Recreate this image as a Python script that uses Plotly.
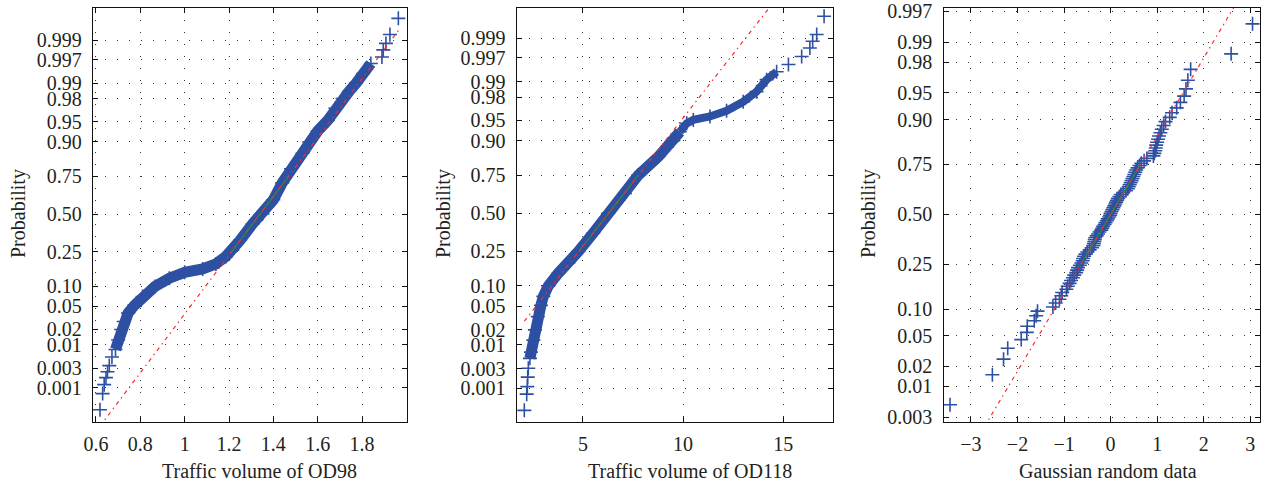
import plotly.graph_objects as go
from statistics import NormalDist

# ---------------- data ----------------
od98_x = [0.618, 0.630, 0.637, 0.645, 0.652, 0.660, 0.672, 0.688, 0.700, 0.713,
          0.725, 0.745, 0.773, 0.810, 0.866, 0.931, 1.000, 1.081, 1.141, 1.186,
          1.215, 1.250, 1.306, 1.351, 1.400, 1.440, 1.480, 1.532, 1.562, 1.600,
          1.645, 1.680, 1.712, 1.745, 1.773, 1.805, 1.840, 1.890, 1.896, 1.908,
          1.926, 1.964]
od98_p = [0.00025, 0.0007, 0.0012, 0.0018, 0.0025, 0.0035, 0.0055, 0.008, 0.0125, 0.02,
          0.028, 0.039, 0.052, 0.071, 0.099, 0.127, 0.150, 0.164, 0.187, 0.225,
          0.260, 0.320, 0.430, 0.500, 0.600, 0.710, 0.790, 0.860, 0.900, 0.930,
          0.952, 0.970, 0.980, 0.986, 0.990, 0.9938, 0.9963, 0.9974, 0.99825, 0.9988,
          0.9993, 0.99975]
od98_quartiles = [1.211, 1.469]

od118_x = [2.07, 2.19, 2.22, 2.24, 2.27, 2.35, 2.40, 2.52, 2.60, 2.74,
           2.90, 3.02, 3.27, 3.77, 4.27, 4.77, 5.51, 6.26, 7.10, 7.76,
           8.76, 9.51, 9.84, 10.18, 10.51, 11.34, 12.17, 13.00, 13.67, 14.17,
           14.67, 15.26, 15.92, 16.33, 16.47, 16.67, 17.04]
od118_p = [0.00025, 0.0007, 0.0011, 0.0019, 0.0031, 0.0052, 0.0071, 0.0125, 0.0197, 0.034,
           0.052, 0.071, 0.100, 0.145, 0.190, 0.250, 0.363, 0.500, 0.637, 0.750,
           0.841, 0.900, 0.925, 0.944, 0.9505, 0.9564, 0.9649, 0.9756, 0.9842, 0.9909,
           0.9938, 0.99573, 0.9972, 0.99825, 0.99882, 0.99921, 0.99975]
od118_quartiles = [4.79, 7.77]

gauss_x = [-3.45, -2.54, -2.30, -2.21, -1.92, -1.80, -1.79, -1.64, -1.60, -1.57,
           -1.24, -1.18, -1.10, -1.06, -1.04, -0.95, -0.92, -0.88, -0.85, -0.81,
           -0.78, -0.74, -0.72, -0.70, -0.66, -0.63, -0.60, -0.59, -0.57, -0.54,
           -0.50, -0.45, -0.40, -0.37, -0.36, -0.35, -0.34, -0.33, -0.30, -0.27,
           -0.24, -0.20, -0.18, -0.16, -0.13, -0.11, -0.08, -0.06, -0.03, -0.01,
           0.00, 0.02, 0.04, 0.06, 0.08, 0.10, 0.12, 0.14, 0.16, 0.19,
           0.22, 0.27, 0.33, 0.37, 0.39, 0.41, 0.43, 0.45, 0.47, 0.49,
           0.51, 0.53, 0.55, 0.58, 0.62, 0.66, 0.72, 0.78, 0.92, 0.94,
           0.96, 0.97, 0.98, 1.00, 1.02, 1.04, 1.07, 1.10, 1.14, 1.18,
           1.27, 1.32, 1.42, 1.50, 1.58, 1.62, 1.66, 1.72, 2.59, 3.05]
gauss_quartiles = [-0.633, 0.641]

traffic_prob_ticks = [0.001, 0.003, 0.01, 0.02, 0.05, 0.10, 0.25, 0.50, 0.75, 0.90,
                      0.95, 0.98, 0.99, 0.997, 0.999]
traffic_prob_labels = ["0.001", "0.003", "0.01", "0.02", "0.05", "0.10", "0.25", "0.50",
                       "0.75", "0.90", "0.95", "0.98", "0.99", "0.997", "0.999"]
gauss_prob_ticks = [0.003, 0.01, 0.02, 0.05, 0.10, 0.25, 0.50, 0.75, 0.90, 0.95,
                    0.98, 0.99, 0.997]
gauss_prob_labels = ["0.003", "0.01", "0.02", "0.05", "0.10", "0.25", "0.50", "0.75",
                     "0.90", "0.95", "0.98", "0.99", "0.997"]

od98_xticks = [0.6, 0.8, 1.0, 1.2, 1.4, 1.6, 1.8]
od98_xlabels = ["0.6", "0.8", "1", "1.2", "1.4", "1.6", "1.8"]
od118_xticks = [5, 10, 15]
gauss_xticks = [-3, -2, -1, 0, 1, 2, 3]
gauss_xlabels = ["\u22123", "\u22122", "\u22121", "0", "1", "2", "3"]

x_titles = ["Traffic volume of OD98", "Traffic volume of OD118", "Gaussian random data"]

# ---------------- helpers ----------------
ND = NormalDist()


def zq(p):
    """normal probability-scale transform of the y axis"""
    return ND.inv_cdf(p)


W, H = 1264, 483
BLUE = "rgb(46,80,163)"
RED = "#ff2a2a"
GREEN = "#1f8f3a"
TXT = "#231f20"
FONT = "Liberation Serif"

fig = go.Figure()


def add_panel(k, xs, ps, quart, bands):
    xa = "x" if k == 1 else f"x{k}"
    ya = "y" if k == 1 else f"y{k}"
    zs = [zq(p) for p in ps]
    # dense band of overlapping '+' markers
    for a, b, w in bands:
        fig.add_trace(go.Scatter(x=xs[a:b], y=zs[a:b], mode="lines",
                                 line=dict(color=BLUE, width=w),
                                 xaxis=xa, yaxis=ya, showlegend=False, hoverinfo="skip"))
    fig.add_trace(go.Scatter(x=xs, y=zs, mode="markers",
                             marker=dict(symbol="cross-thin", size=10, color=BLUE,
                                         line=dict(color=BLUE, width=1.6)),
                             xaxis=xa, yaxis=ya, showlegend=False, cliponaxis=False))
    # robust fit line through the quartiles
    q1, q3 = quart
    z1, z3 = zq(0.25), zq(0.75)

    def fz(x):
        return z1 + (x - q1) * (z3 - z1) / (q3 - q1)

    fig.add_trace(go.Scatter(x=[q1, q3], y=[z1, z3], mode="lines",
                             line=dict(color=GREEN, width=1.2),
                             xaxis=xa, yaxis=ya, showlegend=False))
    xmin, xmax = min(xs), max(xs)
    fig.add_trace(go.Scatter(x=[xmin, xmax], y=[fz(xmin), fz(xmax)], mode="lines",
                             line=dict(color=RED, width=1.2, dash="4px,4px,1.5px,4px"),
                             xaxis=xa, yaxis=ya, showlegend=False))


add_panel(1, od98_x, od98_p, od98_quartiles, [(7, 37, 11)])
add_panel(2, od118_x, od118_p, od118_quartiles, [(5, 23, 11), (22, 31, 8)])
gp = [(i + 0.5) / len(gauss_x) for i in range(len(gauss_x))]  # normplot plotting positions
add_panel(3, gauss_x, gp, gauss_quartiles, [])

ydom = [1 - 422 / H, 1 - 8 / H]
xdoms = [[93 / W, 407 / W], [516.7 / W, 832.7 / W], [943.5 / W, 1260 / W]]
xranges = [[0.5865, 2.003], [1.69, 17.47], [-3.59, 3.21]]
yranges = [[-3.70, 3.665], [-3.687, 3.627], [-2.81, 2.79]]

common = dict(showline=True, linecolor="#111", linewidth=1.3, mirror="ticks",
              ticks="inside", ticklen=5, tickwidth=1, tickcolor="#111",
              showgrid=True, gridcolor="#333", gridwidth=1, griddash="1px,11px",
              zeroline=False, automargin=False,
              tickfont=dict(family=FONT, size=20, color=TXT))

xtick_sets = [(od98_xticks, od98_xlabels), (od118_xticks, [str(v) for v in od118_xticks]),
              (gauss_xticks, gauss_xlabels)]
ytick_sets = [(traffic_prob_ticks, traffic_prob_labels), (traffic_prob_ticks, traffic_prob_labels),
              (gauss_prob_ticks, gauss_prob_labels)]

lay = {}
for k in range(3):
    xn = "xaxis" if k == 0 else f"xaxis{k + 1}"
    yn = "yaxis" if k == 0 else f"yaxis{k + 1}"
    anc_y = "y" if k == 0 else f"y{k + 1}"
    anc_x = "x" if k == 0 else f"x{k + 1}"
    tv, tt = xtick_sets[k]
    lay[xn] = dict(common, domain=xdoms[k], range=xranges[k], anchor=anc_y,
                   tickmode="array", tickvals=tv, ticktext=tt, ticklabelstandoff=4)
    pv, pt = ytick_sets[k]
    lay[yn] = dict(common, domain=ydom, range=yranges[k], anchor=anc_x,
                   tickmode="array", tickvals=[zq(p) for p in pv], ticktext=pt,
                   ticklabelstandoff=6)

ann = []
ytitle_x = [18, 443, 868]
xtitle_x = [259, 690, 1108]
for k in range(3):
    ann.append(dict(text="Probability", xref="paper", yref="paper",
                    x=ytitle_x[k] / W, y=1 - 214 / H, textangle=-90, showarrow=False,
                    xanchor="center", yanchor="middle",
                    font=dict(family=FONT, size=20, color=TXT)))
    ann.append(dict(text=x_titles[k], xref="paper", yref="paper",
                    x=xtitle_x[k] / W, y=1 - 471 / H, showarrow=False,
                    xanchor="center", yanchor="middle",
                    font=dict(family=FONT, size=20, color=TXT)))

fig.update_layout(width=W, height=H, margin=dict(l=0, r=0, t=0, b=0),
                  paper_bgcolor="white", plot_bgcolor="white",
                  annotations=ann, **lay)

fig.write_html("out.html")
